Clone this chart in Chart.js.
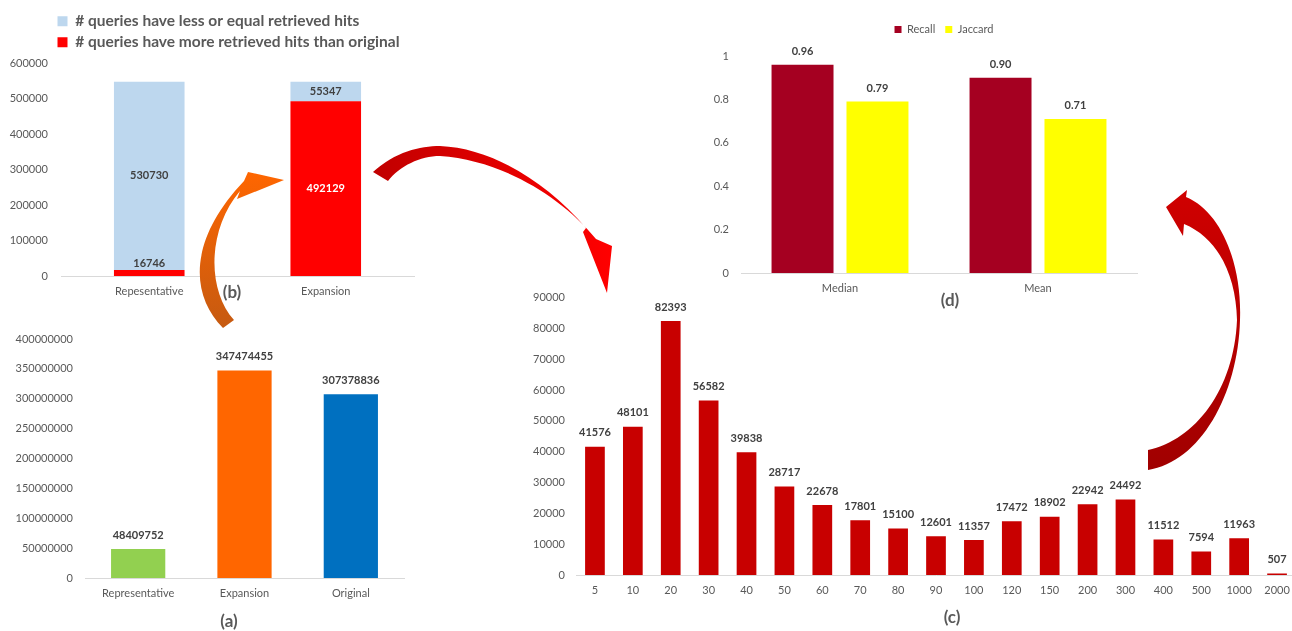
<!DOCTYPE html>
<html>
<head>
<meta charset="utf-8">
<script src="https://cdn.jsdelivr.net/npm/chart.js@4.4.1/dist/chart.umd.min.js"></script>
<style>
html, body { margin: 0; padding: 0; background: #fff; overflow: hidden; }
#page { position: relative; width: 1292px; height: 631px; overflow: hidden; }
canvas { position: absolute; }
svg { position: absolute; left: 0; top: 0; pointer-events: none; }
</style>
</head>
<body>
<div id="page">
  <canvas id="chart-b" width="420" height="310" style="left:0;top:0"></canvas>
  <canvas id="chart-a" width="420" height="321" style="left:0;top:310px"></canvas>
  <canvas id="chart-d" width="510" height="310" style="left:690px;top:0"></canvas>
  <canvas id="chart-c" width="780" height="351" style="left:520px;top:280px"></canvas>
  <svg width="1292" height="631" viewBox="0 0 1292 631">
    <defs>
      <linearGradient id="gOrange" gradientUnits="userSpaceOnUse" x1="0" y1="170" x2="0" y2="330">
        <stop offset="0" stop-color="#FF6600"/>
        <stop offset="1" stop-color="#C55A11"/>
      </linearGradient>
      <linearGradient id="gRed" gradientUnits="userSpaceOnUse" x1="373" y1="0" x2="612" y2="0">
        <stop offset="0" stop-color="#C00000"/>
        <stop offset="1" stop-color="#FF0000"/>
      </linearGradient>
      <linearGradient id="gDark" gradientUnits="userSpaceOnUse" x1="0" y1="190" x2="0" y2="470">
        <stop offset="0" stop-color="#D00000"/>
        <stop offset="1" stop-color="#A00000"/>
      </linearGradient>
    </defs>
    <!-- (a) -> (b) -->
    <path fill="url(#gOrange)" d="M 223 328 C 190 295, 188 240, 244 181 L 248 172 L 284 180 L 237 199 L 240 191 C 207 230, 207 290, 234 320 Z"/>
    <!-- (b) -> (c) -->
    <path fill="url(#gRed)" d="M 373 172 C 395 152, 420 146, 440 146 C 490 148, 545 180, 586 228 L 583 232 L 607 293 L 612 246 L 596 239 C 560 195, 500 160, 440 156 C 420 156, 400 166, 388 181 Z"/>
    <!-- (c) -> (d) -->
    <path fill="url(#gDark)" d="M 1186 197 C 1222 212, 1242 265, 1240 320 C 1238 395, 1200 462, 1148 470 L 1148 450 C 1195 440, 1234 390, 1237 320 C 1236 275, 1218 238, 1184 224 L 1183 236 L 1166 207 L 1187 190 Z"/>
  </svg>
</div>
<script>
// (b) queries vs retrieved hits
const bCategories = ["Repesentative", "Expansion"];
const bMoreHits = [16746, 492129];
const bLessEqualHits = [530730, 55347];
const bSeriesNames = ["# queries have more retrieved hits than original", "# queries have less or equal retrieved hits"];
const bTicks = [0, 600000, 100000];

// (a) total hits
const aCategories = ["Representative", "Expansion", "Original"];
const aValues = [48409752, 347474455, 307378836];
const aTicks = [0, 400000000, 50000000];

// (c) distribution
const cCategories = ["5", "10", "20", "30", "40", "50", "60", "70", "80", "90", "100", "120", "150", "200", "300", "400", "500", "1000", "2000"];
const cValues = [41576, 48101, 82393, 56582, 39838, 28717, 22678, 17801, 15100, 12601, 11357, 17472, 18902, 22942, 24492, 11512, 7594, 11963, 507];
const cTicks = [0, 90000, 10000];

// (d) recall / jaccard
const dCategories = ["Median", "Mean"];
const dRecall = [0.96, 0.90];
const dJaccard = [0.79, 0.71];
const dTicks = [0, 1, 0.2];

Chart.defaults.font.family = "Lato, 'Noto Sans', sans-serif";
Chart.defaults.color = "#595959";
Chart.defaults.animation = false;

const GRAY = "#595959";
const LABEL = "#404040";
const AXIS = "#D9D9D9";

// value labels on bars
const barLabels = {
    id: "barLabels",
    afterDatasetsDraw(chart, args, opts) {
        const ctx = chart.ctx;
        ctx.save();
        ctx.font = "bold " + (opts.size || 11) + "px Lato, sans-serif";
        ctx.textAlign = "center";
        ctx.textBaseline = "middle";
        chart.data.datasets.forEach((ds, i) => {
            const meta = chart.getDatasetMeta(i);
            meta.data.forEach((bar, j) => {
                const v = ds.data[j];
                const text = opts.decimals != null ? v.toFixed(opts.decimals) : String(v);
                const h = bar.base - bar.y;
                let y = bar.y - opts.offset;
                let color = LABEL;
                if (ds.labelInside && h > 16) {
                    y = bar.y + h / 2;
                    color = ds.labelColor || LABEL;
                }
                ctx.fillStyle = color;
                ctx.fillText(text, bar.x, y);
            });
        });
        ctx.restore();
    }
};

// "(a)" style panel captions
const panelLabel = {
    id: "panelLabel",
    afterDraw(chart, args, opts) {
        const ctx = chart.ctx;
        ctx.save();
        ctx.font = "bold 17px Lato, sans-serif";
        ctx.fillStyle = GRAY;
        ctx.textAlign = "center";
        ctx.textBaseline = "middle";
        ctx.fillText(opts.text, opts.x, opts.y);
        ctx.restore();
    }
};

// nudge the legend sideways after layout
const legendShift = {
    id: "legendShift",
    afterLayout(chart, args, opts) {
        if (!chart.legend || !opts.dx) return;
        chart.legend.left += opts.dx;
        chart.legend.right += opts.dx;
    }
};

function xAxis(height, stacked) {
    return {
        stacked: !!stacked,
        grid: { display: false, drawTicks: false },
        border: { display: true, color: AXIS, width: 1 },
        ticks: { padding: 9, font: { size: 11 }, color: GRAY, maxRotation: 0, autoSkip: false },
        afterFit: s => { s.height = height; }
    };
}

function yAxis(width, ticks, pad, stacked) {
    return {
        stacked: !!stacked,
        min: ticks[0],
        max: ticks[1],
        grid: { display: false, drawTicks: false },
        border: { display: false },
        ticks: {
            stepSize: ticks[2],
            padding: pad,
            font: { size: 11 },
            color: GRAY,
            callback: v => String(+v.toFixed(1))
        },
        afterFit: s => { s.width = width; }
    };
}

// chart (b)
new Chart(document.getElementById("chart-b"), {
    type: "bar",
    data: {
        labels: bCategories,
        datasets: [
            { label: bSeriesNames[0], data: bMoreHits, backgroundColor: "#FF0000", labelInside: true, labelColor: "#FFFFFF" },
            { label: bSeriesNames[1], data: bLessEqualHits, backgroundColor: "#BDD7EE", labelInside: true }
        ]
    },
    options: {
        responsive: false,
        layout: { padding: { left: 0, right: 6, top: 8, bottom: 4 } },
        datasets: { bar: { barPercentage: 0.4, categoryPercentage: 1 } },
        scales: {
            x: xAxis(30, true),
            y: yAxis(61, bTicks, 13, true)
        },
        plugins: {
            legend: {
                position: "top",
                align: "start",
                reverse: true,
                labels: { boxWidth: 10, boxHeight: 10, padding: 5.5, color: GRAY, font: { size: 15.5, weight: "bold" } }
            },
            title: { display: true, text: "", padding: 0, weight: 500, font: { size: 3, lineHeight: 1 } },
            tooltip: { enabled: false },
            legendShift: { dx: 52 },
            barLabels: { offset: 7 },
            panelLabel: { text: "(b)", x: 232, y: 293 }
        }
    },
    plugins: [barLabels, panelLabel, legendShift]
});

// chart (a)
new Chart(document.getElementById("chart-a"), {
    type: "bar",
    data: {
        labels: aCategories,
        datasets: [{ data: aValues, backgroundColor: ["#92D050", "#FF6600", "#0070C0"] }]
    },
    options: {
        responsive: false,
        layout: { padding: { left: 0, right: 16, top: 29, bottom: 4 } },
        datasets: { bar: { barPercentage: 0.51, categoryPercentage: 1 } },
        scales: {
            x: xAxis(49),
            y: yAxis(85, aTicks, 12)
        },
        plugins: {
            legend: { display: false },
            tooltip: { enabled: false },
            barLabels: { offset: 14 },
            panelLabel: { text: "(a)", x: 229, y: 312 }
        }
    },
    plugins: [barLabels, panelLabel]
});

// chart (d)
new Chart(document.getElementById("chart-d"), {
    type: "bar",
    data: {
        labels: dCategories,
        datasets: [
            { label: "Recall", data: dRecall, backgroundColor: "#A50021" },
            { label: "Jaccard", data: dJaccard, backgroundColor: "#FFFF00" }
        ]
    },
    options: {
        responsive: false,
        layout: { padding: { left: 0, right: 63, top: 14, bottom: 4 } },
        datasets: { bar: { barPercentage: 0.827, categoryPercentage: 0.757 } },
        scales: {
            x: xAxis(33),
            y: yAxis(51, dTicks, 12)
        },
        plugins: {
            legend: {
                position: "top",
                align: "center",
                fullSize: false,
                labels: { boxWidth: 7, boxHeight: 7, padding: 10, color: GRAY, font: { size: 11 } }
            },
            title: { display: true, text: "", padding: 0, weight: 500, fullSize: false, font: { size: 11, lineHeight: 1 } },
            tooltip: { enabled: false },
            legendShift: { dx: 5 },
            barLabels: { offset: 13, decimals: 2 },
            panelLabel: { text: "(d)", x: 260, y: 301 }
        }
    },
    plugins: [barLabels, panelLabel, legendShift]
});

// chart (c)
new Chart(document.getElementById("chart-c"), {
    type: "bar",
    data: {
        labels: cCategories,
        datasets: [{ data: cValues, backgroundColor: "#C80000" }]
    },
    options: {
        responsive: false,
        layout: { padding: { left: 0, right: 4, top: 15, bottom: 4 } },
        datasets: { bar: { barPercentage: 0.52, categoryPercentage: 1 } },
        scales: {
            x: xAxis(52),
            y: yAxis(56, cTicks, 11)
        },
        plugins: {
            legend: { display: false },
            tooltip: { enabled: false },
            barLabels: { offset: 14 },
            panelLabel: { text: "(c)", x: 432, y: 338 }
        }
    },
    plugins: [barLabels, panelLabel]
});
</script>
</body>
</html>
